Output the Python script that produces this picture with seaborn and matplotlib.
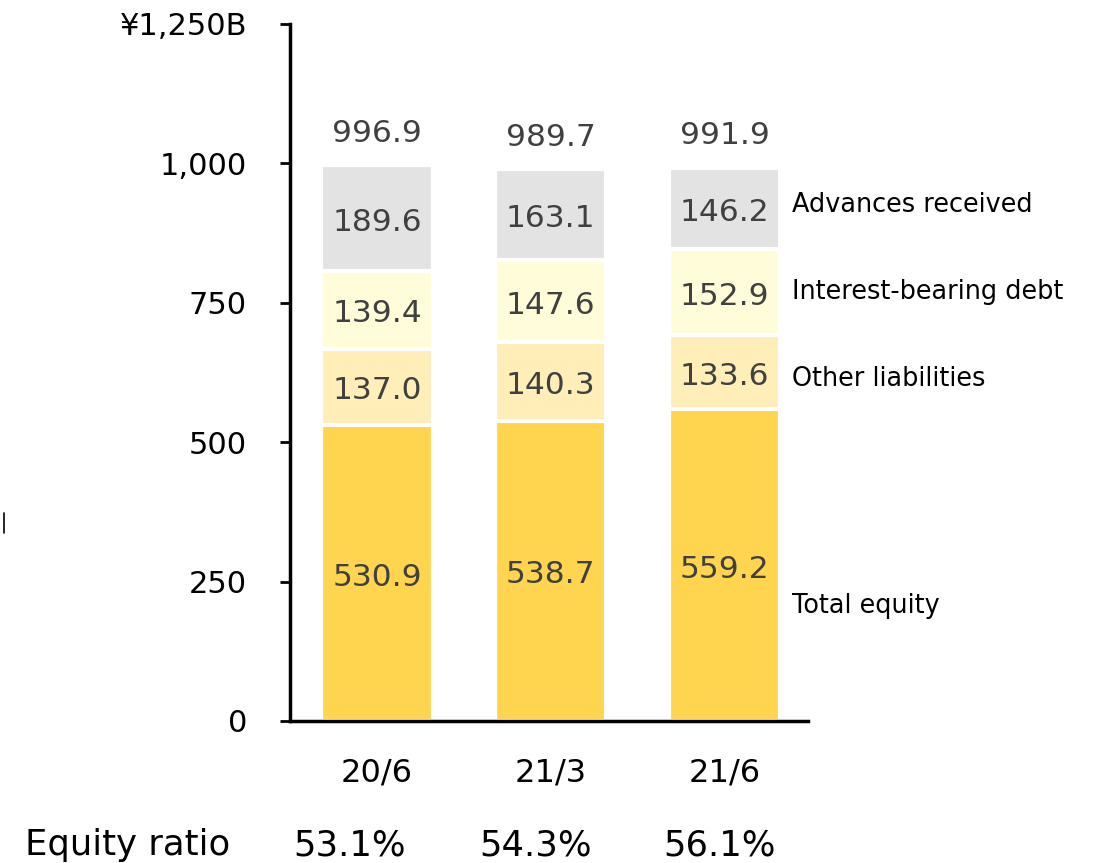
import pandas as pd
import matplotlib.pyplot as plt
import seaborn as sns
from matplotlib.lines import Line2D

# data (¥ billions)
periods = ['20/6', '21/3', '21/6']
total_equity = [530.9, 538.7, 559.2]
other_liabilities = [137.0, 140.3, 133.6]
interest_debt = [139.4, 147.6, 152.9]
advances = [189.6, 163.1, 146.2]
totals = [996.9, 989.7, 991.9]
equity_ratio = ['53.1%', '54.3%', '56.1%']

series_names = ['Total equity', 'Other liabilities', 'Interest-bearing debt', 'Advances received']
series_vals = [total_equity, other_liabilities, interest_debt, advances]
colors = ['#FFD54F', '#FFEEB7', '#FFFDD9', '#E3E3E3']

sns.set_style('white')
plt.rcParams['font.family'] = ['DejaVu Sans']

df = pd.DataFrame({'period': periods})
cum = [0, 0, 0]
cums = []
for vals in series_vals:
    cum = [c + v for c, v in zip(cum, vals)]
    cums.append(cum)

fig = plt.figure(figsize=(10.97, 8.63), dpi=100)
ax = fig.add_axes([0.2644, 0.1646, 0.4722, 0.8077])

# stacked bars: draw cumulative sums from the top series down
for i in range(len(series_vals) - 1, -1, -1):
    df['v'] = cums[i]
    sns.barplot(data=df, x='period', y='v', color=colors[i], width=0.64,
                edgecolor='white', linewidth=3, saturation=1, ax=ax, zorder=2)

# segment labels
for i, vals in enumerate(series_vals):
    for j, v in enumerate(vals):
        ax.annotate(f'{v:.1f}', (j, cums[i][j] - v / 2), xytext=(0, -3),
                    textcoords='offset points', ha='center', va='center',
                    fontsize=22.5, color='#404040')

# totals on top
for j, t in enumerate(totals):
    ax.annotate(f'{t:.1f}', (j, t), xytext=(0, 23), textcoords='offset points',
                ha='center', va='center', fontsize=22.5, color='#404040')

# series names at the right of the last bar
label_y = [cums[0][2] - total_equity[2] / 2 - 73,
           cums[1][2] - other_liabilities[2] / 2 - 12,
           cums[2][2] - interest_debt[2] / 2,
           cums[3][2] - advances[2] / 2 + 6]
for name, y in zip(series_names, label_y):
    ax.text(2.39, y, name, ha='left', va='center', fontsize=18.4, color='black')

ax.set_xlim(-0.5, 2.48)
ax.set_ylim(0, 1250)
ax.set_yticks([0, 250, 500, 750, 1000, 1250])
ax.set_yticklabels(['0', '250', '500', '750', '1,000', '¥1,250B'])
ax.tick_params(axis='y', which='major', direction='out', length=7, width=2,
               labelsize=22, pad=24, left=True, colors='black')
ax.tick_params(axis='x', length=0, labelsize=23, pad=26, colors='black')
ax.set_xlabel('')
ax.set_ylabel('')
sns.despine(ax=ax, top=True, right=True)
for side in ['left', 'bottom']:
    ax.spines[side].set_linewidth(2.5)
    ax.spines[side].set_color('black')

# equity ratio row
fig.text(25 / 1097, 1 - 855 / 863, 'Equity ratio', ha='left', va='baseline',
         fontsize=25.5, color='black')
for xpix, r in zip([350, 536, 720], equity_ratio):
    fig.text(xpix / 1097, 1 - 855 / 863, r, ha='center', va='baseline',
             fontsize=25.5, color='black')

fig.add_artist(Line2D([4 / 1097, 4 / 1097], [1 - 513 / 863, 1 - 533 / 863],
                      color='black', linewidth=1.2))

fig.savefig('out.png', dpi=100)
